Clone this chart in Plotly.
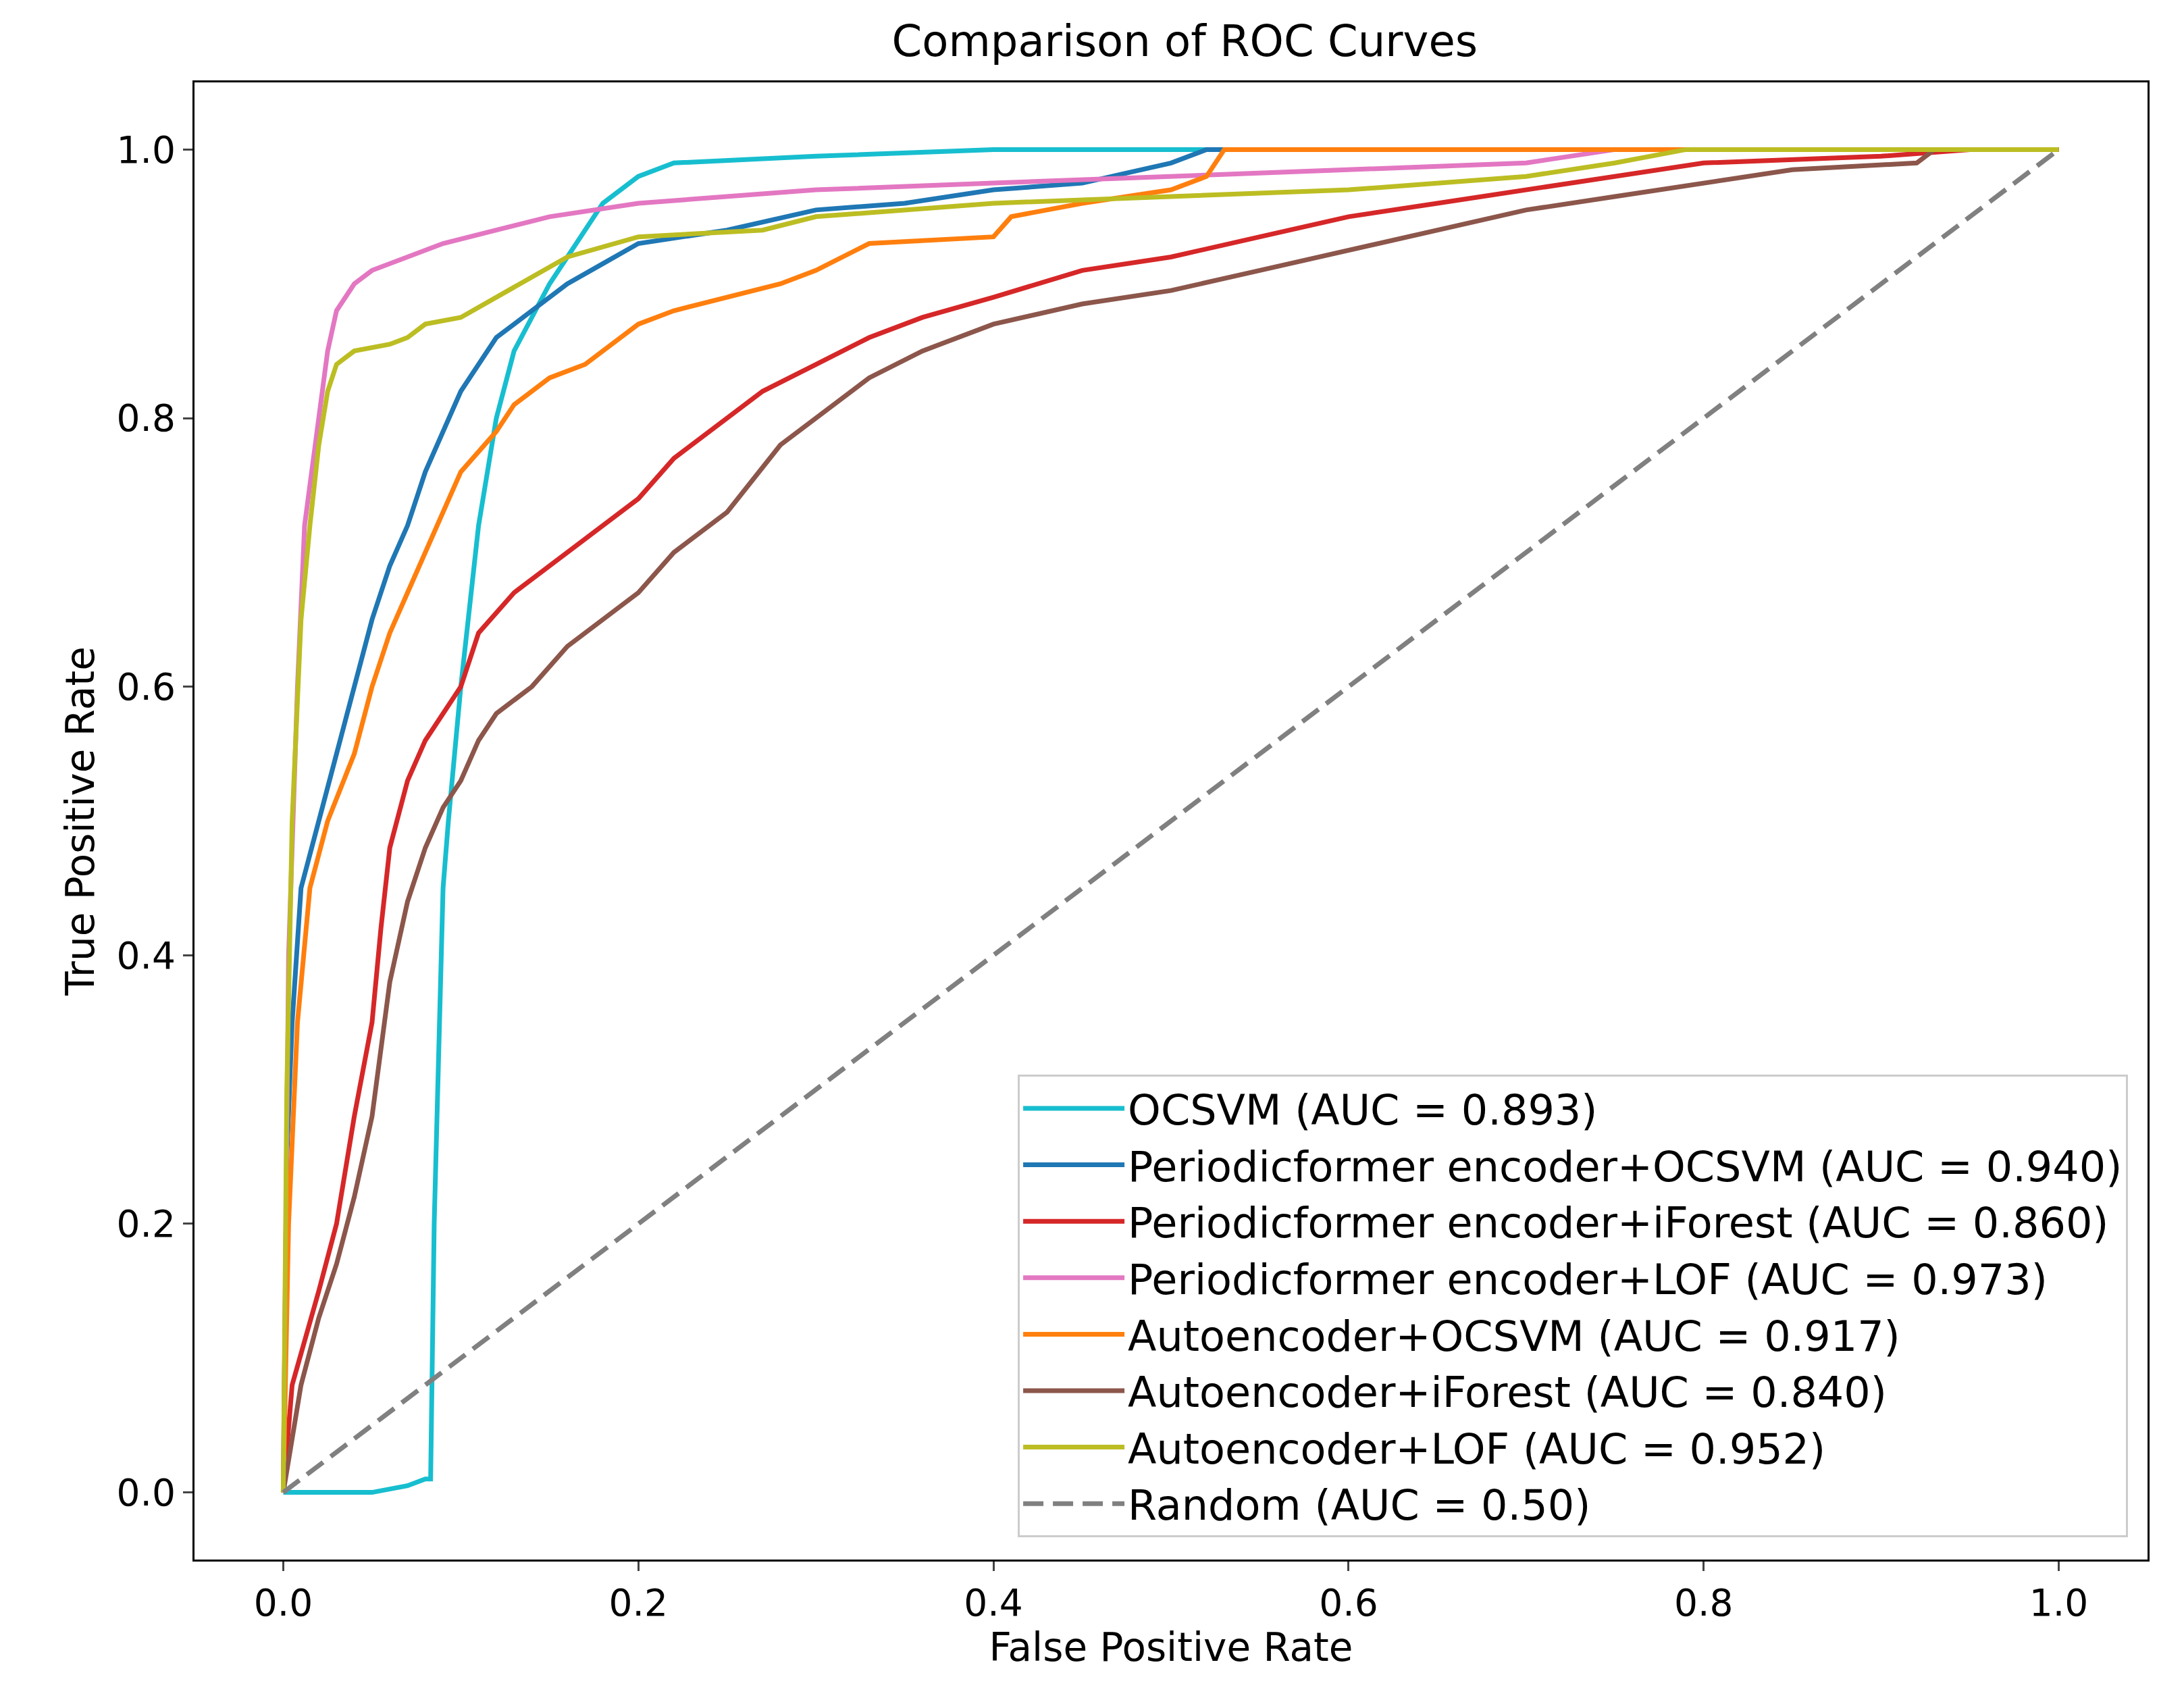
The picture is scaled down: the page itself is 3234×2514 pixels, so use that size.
import plotly.graph_objects as go

names = ["OCSVM (AUC = 0.893)", "Periodicformer encoder+OCSVM (AUC = 0.940)",
         "Periodicformer encoder+iForest (AUC = 0.860)", "Periodicformer encoder+LOF (AUC = 0.973)",
         "Autoencoder+OCSVM (AUC = 0.917)", "Autoencoder+iForest (AUC = 0.840)",
         "Autoencoder+LOF (AUC = 0.952)"]
colors = ["#17becf", "#1f77b4", "#d62728", "#e377c2", "#ff7f0e", "#8c564b", "#bcbd22"]

ocsvm_x = [0,0.05,0.07,0.08,0.083,0.085,0.09,0.093,0.1,0.11,0.12,0.13,0.15,0.17,0.18,0.2,0.22,0.3,0.4,0.52,1]
ocsvm_y = [0,0,0.005,0.01,0.01,0.2,0.45,0.5,0.6,0.72,0.8,0.85,0.9,0.94,0.96,0.98,0.99,0.995,1.0,1.0,1]
pf_ocsvm_x = [0,0.002,0.005,0.01,0.02,0.03,0.04,0.05,0.06,0.07,0.08,0.09,0.1,0.11,0.12,0.14,0.16,0.18,0.2,0.25,0.3,0.35,0.4,0.45,0.5,0.52,1]
pf_ocsvm_y = [0,0.25,0.35,0.45,0.5,0.55,0.6,0.65,0.69,0.72,0.76,0.79,0.82,0.84,0.86,0.88,0.9,0.915,0.93,0.94,0.955,0.96,0.97,0.975,0.99,1.0,1]
pf_if_x = [0,0.005,0.02,0.03,0.04,0.05,0.055,0.06,0.07,0.08,0.1,0.11,0.13,0.15,0.16,0.18,0.2,0.22,0.25,0.27,0.3,0.33,0.36,0.4,0.45,0.5,0.55,0.6,0.65,0.7,0.75,0.8,0.9,0.95,1]
pf_if_y = [0,0.08,0.15,0.2,0.28,0.35,0.42,0.48,0.53,0.56,0.6,0.64,0.67,0.69,0.7,0.72,0.74,0.77,0.8,0.82,0.84,0.86,0.875,0.89,0.91,0.92,0.935,0.95,0.96,0.97,0.98,0.99,0.995,1.0,1]
pf_lof_x = [0,0.003,0.008,0.012,0.02,0.025,0.03,0.04,0.05,0.07,0.09,0.12,0.15,0.2,0.3,0.4,0.5,0.6,0.7,0.75,1]
pf_lof_y = [0,0.4,0.6,0.72,0.8,0.85,0.88,0.9,0.91,0.92,0.93,0.94,0.95,0.96,0.97,0.975,0.98,0.985,0.99,1.0,1]
ae_ocsvm_x = [0,0.003,0.008,0.015,0.025,0.04,0.05,0.06,0.07,0.08,0.09,0.1,0.12,0.13,0.15,0.17,0.19,0.2,0.22,0.25,0.28,0.3,0.33,0.4,0.41,0.45,0.5,0.52,0.53,0.79,1]
ae_ocsvm_y = [0,0.2,0.35,0.45,0.5,0.55,0.6,0.64,0.67,0.7,0.73,0.76,0.79,0.81,0.83,0.84,0.86,0.87,0.88,0.89,0.9,0.91,0.93,0.935,0.95,0.96,0.97,0.98,1.0,1.0,1]
ae_if_x = [0,0.01,0.02,0.03,0.04,0.05,0.06,0.07,0.08,0.09,0.1,0.11,0.12,0.14,0.16,0.18,0.2,0.22,0.25,0.28,0.3,0.33,0.36,0.4,0.45,0.5,0.55,0.6,0.65,0.7,0.75,0.8,0.85,0.92,0.93,1]
ae_if_y = [0,0.08,0.13,0.17,0.22,0.28,0.38,0.44,0.48,0.51,0.53,0.56,0.58,0.6,0.63,0.65,0.67,0.7,0.73,0.78,0.8,0.83,0.85,0.87,0.885,0.895,0.91,0.925,0.94,0.955,0.965,0.975,0.985,0.99,1.0,1]
ae_lof_x = [0,0.002,0.005,0.01,0.015,0.02,0.025,0.03,0.04,0.06,0.07,0.08,0.1,0.12,0.14,0.16,0.2,0.27,0.3,0.4,0.5,0.6,0.7,0.75,0.79,1]
ae_lof_y = [0,0.3,0.5,0.65,0.72,0.78,0.82,0.84,0.85,0.855,0.86,0.87,0.875,0.89,0.905,0.92,0.935,0.94,0.95,0.96,0.965,0.97,0.98,0.99,1.0,1]
random_x = [0, 1]
random_y = [0, 1]

xs = [ocsvm_x, pf_ocsvm_x, pf_if_x, pf_lof_x, ae_ocsvm_x, ae_if_x, ae_lof_x]
ys = [ocsvm_y, pf_ocsvm_y, pf_if_y, pf_lof_y, ae_ocsvm_y, ae_if_y, ae_lof_y]

fig = go.Figure()
for n, c, x, y in zip(names, colors, xs, ys):
    fig.add_trace(go.Scatter(x=x, y=y, mode="lines", name=n, line=dict(color=c, width=7)))
fig.add_trace(go.Scatter(x=random_x, y=random_y, mode="lines", name="Random (AUC = 0.50)",
                         line=dict(color="gray", width=7, dash="30px,14px")))

font = "DejaVu Sans"
ax = dict(range=[-0.05, 1.05], showgrid=False, zeroline=False, showline=True, mirror=True,
          linecolor="black", linewidth=3, ticks="outside", ticklen=14, tickwidth=3,
          tickvals=[0, 0.2, 0.4, 0.6, 0.8, 1.0], ticktext=["0.0", "0.2", "0.4", "0.6", "0.8", "1.0"],
          tickfont=dict(size=55, color="black", family=font))
fig.update_layout(
    width=3234, height=2514, plot_bgcolor="white", paper_bgcolor="white",
    margin=dict(l=280, r=62, t=114, b=213),
    title=dict(text="Comparison of ROC Curves", x=0.54, xanchor="center", y=0.988, yanchor="top",
               font=dict(size=64, color="black", family=font)),
    xaxis=dict(ax, title=dict(text="False Positive Rate", font=dict(size=58, color="black", family=font))),
    yaxis=dict(ax, title=dict(text="True Positive Rate", font=dict(size=58, color="black", family=font))),
    legend=dict(x=0.99, xanchor="right", y=0.015, yanchor="bottom", bgcolor="rgba(255,255,255,0.8)",
                bordercolor="#cccccc", borderwidth=3, font=dict(size=62, color="black", family=font),
                tracegroupgap=0, itemwidth=150),
)
fig.write_html("out.html")
